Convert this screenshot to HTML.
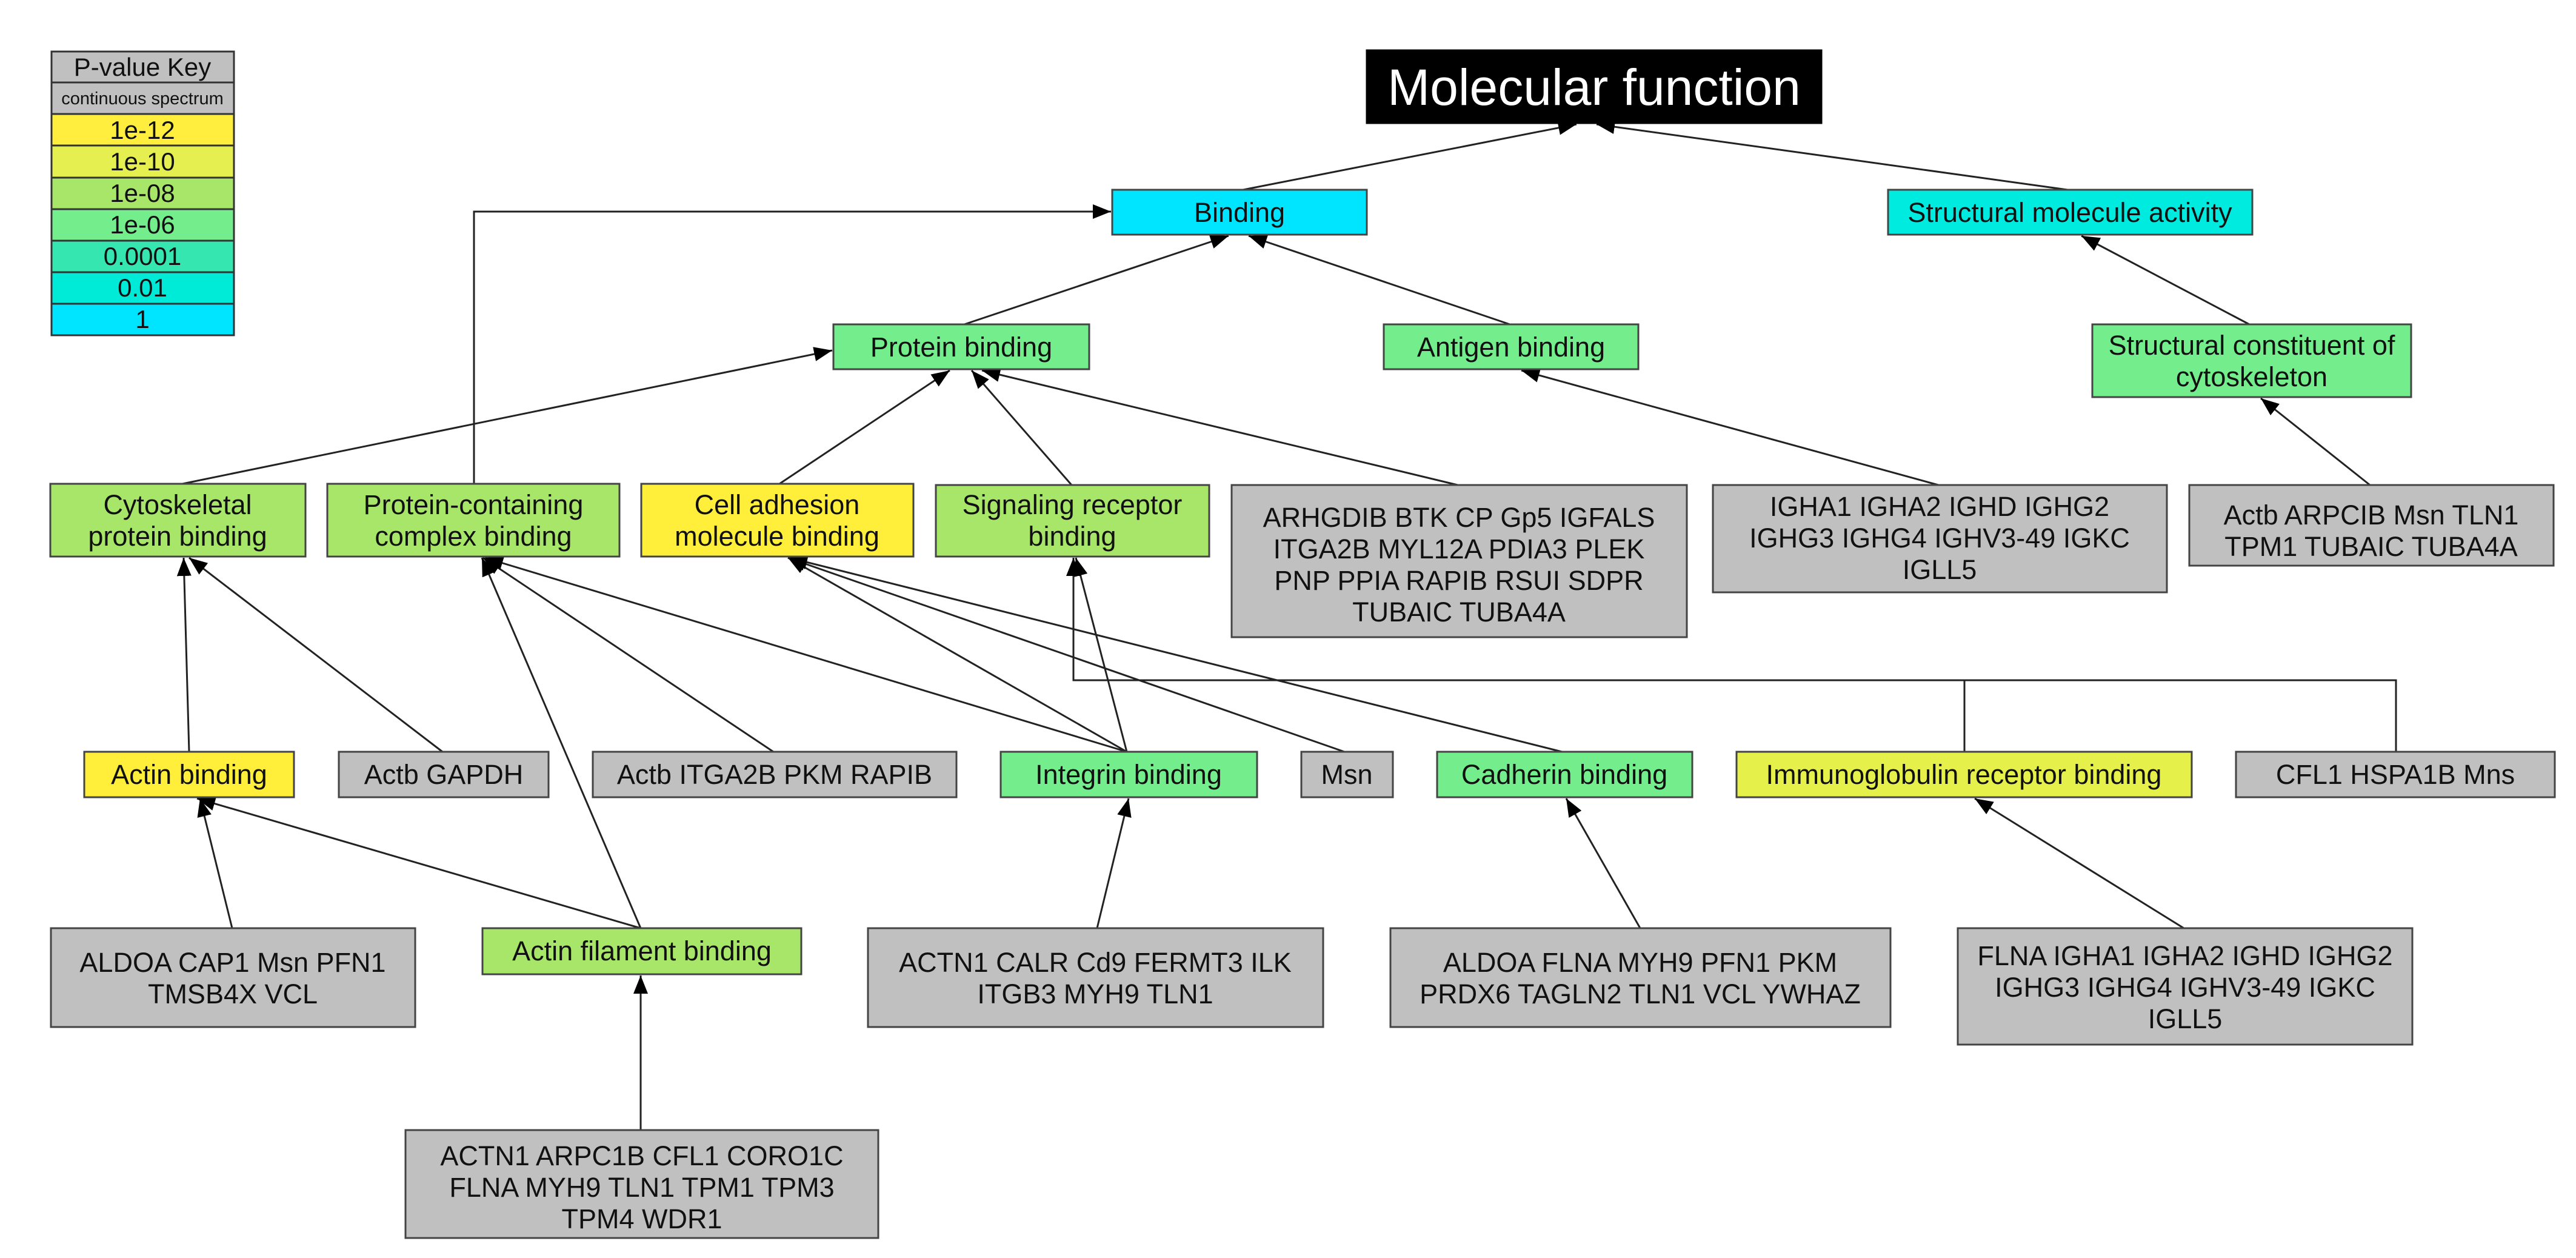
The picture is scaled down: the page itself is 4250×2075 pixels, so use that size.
<!DOCTYPE html>
<html><head><meta charset="utf-8"><style>
html,body{margin:0;padding:0;background:#fff;}
svg{display:block;}
text{font-family:"Liberation Sans",Arial,sans-serif;fill:#111;}
</style></head><body>
<svg width="4250" height="2075" viewBox="0 0 4250 2075" xmlns="http://www.w3.org/2000/svg">
<defs>
<marker id="a" markerUnits="userSpaceOnUse" markerWidth="32" markerHeight="26" refX="30" refY="12" orient="auto">
<path d="M0,0 L30,12 L0,24 z" fill="#000"/>
</marker>
</defs>
<rect width="4250" height="2075" fill="#fff"/>

<!-- Legend -->
<g stroke="#333" stroke-width="3">
<rect x="85" y="85" width="301" height="51" fill="#c0c0c0"/>
<rect x="85" y="136" width="301" height="52" fill="#c0c0c0"/>
<rect x="85" y="188" width="301" height="52" fill="#ffee3e"/>
<rect x="85" y="240" width="301" height="53" fill="#e6ef50"/>
<rect x="85" y="293" width="301" height="52" fill="#a8e66a"/>
<rect x="85" y="345" width="301" height="52" fill="#74ee8c"/>
<rect x="85" y="397" width="301" height="52" fill="#36e6b0"/>
<rect x="85" y="449" width="301" height="52" fill="#00ead8"/>
<rect x="85" y="501" width="301" height="52" fill="#00e5ff"/>
</g>
<g font-size="42" text-anchor="middle">
<text x="235" y="125">P-value Key</text>
<text x="235" y="172" font-size="29">continuous spectrum</text>
<text x="235" y="229">1e-12</text>
<text x="235" y="281">1e-10</text>
<text x="235" y="333">1e-08</text>
<text x="235" y="385">1e-06</text>
<text x="235" y="437">0.0001</text>
<text x="235" y="489">0.01</text>
<text x="235" y="541">1</text>
</g>

<!-- Edges -->
<g stroke="#222" stroke-width="3" fill="none" marker-end="url(#a)">
<line x1="2051" y1="313" x2="2601" y2="205"/>
<line x1="3411" y1="313" x2="2634" y2="205"/>
<line x1="1591" y1="535" x2="2027" y2="389"/>
<line x1="2491" y1="535" x2="2060" y2="389"/>
<line x1="3711" y1="535" x2="3434" y2="389"/>
<polyline points="782,798 782,349 1833,349"/>
<line x1="301" y1="798" x2="1373" y2="578"/>
<line x1="1286" y1="798" x2="1567" y2="611"/>
<line x1="1768" y1="800" x2="1603" y2="611"/>
<line x1="2405" y1="800" x2="1620" y2="611"/>
<line x1="3198" y1="800" x2="2510" y2="611"/>
<line x1="3910" y1="800" x2="3730" y2="657"/>
<line x1="312" y1="1240" x2="303" y2="920"/>
<line x1="730" y1="1240" x2="312" y2="920"/>
<line x1="1057" y1="1531" x2="795" y2="920"/>
<line x1="1276" y1="1240" x2="797" y2="920"/>
<line x1="1859" y1="1240" x2="800" y2="920"/>
<line x1="1859" y1="1240" x2="1300" y2="920"/>
<line x1="1859" y1="1240" x2="1775" y2="920"/>
<line x1="2218" y1="1240" x2="1300" y2="920"/>
<line x1="2577" y1="1240" x2="1302" y2="920"/>
<polyline points="3241,1240 3241,1122 1771,1122 1771,920"/>
<line x1="383" y1="1531" x2="330" y2="1317"/>
<line x1="1057" y1="1531" x2="325" y2="1317"/>
<line x1="1057" y1="1864" x2="1057" y2="1609"/>
<line x1="1810" y1="1531" x2="1862" y2="1317"/>
<line x1="2706" y1="1531" x2="2584" y2="1317"/>
<line x1="3603" y1="1531" x2="3258" y2="1317"/>
</g>
<polyline points="3953,1240 3953,1122 3241,1122" stroke="#222" stroke-width="3" fill="none"/>

<!-- Nodes -->
<g stroke="#444" stroke-width="3">
<rect x="2255" y="83" width="750" height="120" fill="#000" stroke="#000"/>
<rect x="1835" y="313" width="420" height="74" fill="#00e5ff"/>
<rect x="3115" y="313" width="601" height="74" fill="#00ebe0"/>
<rect x="1375" y="535" width="422" height="74" fill="#74ee8c"/>
<rect x="2283" y="535" width="420" height="74" fill="#74ee8c"/>
<rect x="3452" y="535" width="526" height="120" fill="#74ee8c"/>
<rect x="83" y="798" width="421" height="120" fill="#a8e66a"/>
<rect x="540" y="798" width="482" height="120" fill="#a8e66a"/>
<rect x="1058" y="798" width="449" height="120" fill="#ffee3a"/>
<rect x="1544" y="800" width="451" height="118" fill="#a8e66a"/>
<rect x="2032" y="800" width="751" height="251" fill="#c0c0c0"/>
<rect x="2826" y="800" width="749" height="177" fill="#c0c0c0"/>
<rect x="3612" y="800" width="601" height="133" fill="#c0c0c0"/>
<rect x="139" y="1240" width="346" height="75" fill="#ffee3a"/>
<rect x="559" y="1240" width="346" height="75" fill="#c0c0c0"/>
<rect x="978" y="1240" width="600" height="75" fill="#c0c0c0"/>
<rect x="1651" y="1240" width="423" height="75" fill="#74ee8c"/>
<rect x="2147" y="1240" width="151" height="75" fill="#c0c0c0"/>
<rect x="2371" y="1240" width="421" height="75" fill="#74ee8c"/>
<rect x="2865" y="1240" width="751" height="75" fill="#e6f04a"/>
<rect x="3689" y="1240" width="526" height="75" fill="#c0c0c0"/>
<rect x="84" y="1531" width="601" height="163" fill="#c0c0c0"/>
<rect x="796" y="1531" width="526" height="76" fill="#a8e66a"/>
<rect x="1432" y="1531" width="751" height="163" fill="#c0c0c0"/>
<rect x="2294" y="1531" width="825" height="163" fill="#c0c0c0"/>
<rect x="3230" y="1531" width="750" height="192" fill="#c0c0c0"/>
<rect x="669" y="1864" width="780" height="178" fill="#c0c0c0"/>
</g>

<g font-size="45" text-anchor="middle">
<text x="2630" y="173" font-size="84" style="fill:#fff">Molecular function</text>
<text x="2045" y="366">Binding</text>
<text x="3415" y="366">Structural molecule activity</text>
<text x="1586" y="588">Protein binding</text>
<text x="2493" y="588">Antigen binding</text>
<text x="3715" y="585">Structural constituent of</text>
<text x="3715" y="637">cytoskeleton</text>
<text x="293" y="848">Cytoskeletal</text>
<text x="293" y="900">protein binding</text>
<text x="781" y="848">Protein-containing</text>
<text x="781" y="900">complex binding</text>
<text x="1282" y="848">Cell adhesion</text>
<text x="1282" y="900">molecule binding</text>
<text x="1769" y="848">Signaling receptor</text>
<text x="1769" y="900">binding</text>
<text x="2407" y="869">ARHGDIB BTK CP Gp5 IGFALS</text>
<text x="2407" y="921">ITGA2B MYL12A PDIA3 PLEK</text>
<text x="2407" y="973">PNP PPIA RAPIB RSUI SDPR</text>
<text x="2407" y="1025">TUBAIC TUBA4A</text>
<text x="3200" y="851">IGHA1 IGHA2 IGHD IGHG2</text>
<text x="3200" y="903">IGHG3 IGHG4 IGHV3-49 IGKC</text>
<text x="3200" y="955">IGLL5</text>
<text x="3912" y="865">Actb ARPCIB Msn TLN1</text>
<text x="3912" y="917">TPM1 TUBAIC TUBA4A</text>
<text x="312" y="1293">Actin binding</text>
<text x="732" y="1293">Actb GAPDH</text>
<text x="1278" y="1293">Actb ITGA2B PKM RAPIB</text>
<text x="1862" y="1293">Integrin binding</text>
<text x="2222" y="1293">Msn</text>
<text x="2581" y="1293">Cadherin binding</text>
<text x="3240" y="1293">Immunoglobulin receptor binding</text>
<text x="3952" y="1293">CFL1 HSPA1B Mns</text>
<text x="384" y="1603">ALDOA CAP1 Msn PFN1</text>
<text x="384" y="1655">TMSB4X VCL</text>
<text x="1059" y="1584">Actin filament binding</text>
<text x="1807" y="1603">ACTN1 CALR Cd9 FERMT3 ILK</text>
<text x="1807" y="1655">ITGB3 MYH9 TLN1</text>
<text x="2706" y="1603">ALDOA FLNA MYH9 PFN1 PKM</text>
<text x="2706" y="1655">PRDX6 TAGLN2 TLN1 VCL YWHAZ</text>
<text x="3605" y="1592">FLNA IGHA1 IGHA2 IGHD IGHG2</text>
<text x="3605" y="1644">IGHG3 IGHG4 IGHV3-49 IGKC</text>
<text x="3605" y="1696">IGLL5</text>
<text x="1059" y="1922">ACTN1 ARPC1B CFL1 CORO1C</text>
<text x="1059" y="1974">FLNA MYH9 TLN1 TPM1 TPM3</text>
<text x="1059" y="2026">TPM4 WDR1</text>
</g>
</svg>
</body></html>
